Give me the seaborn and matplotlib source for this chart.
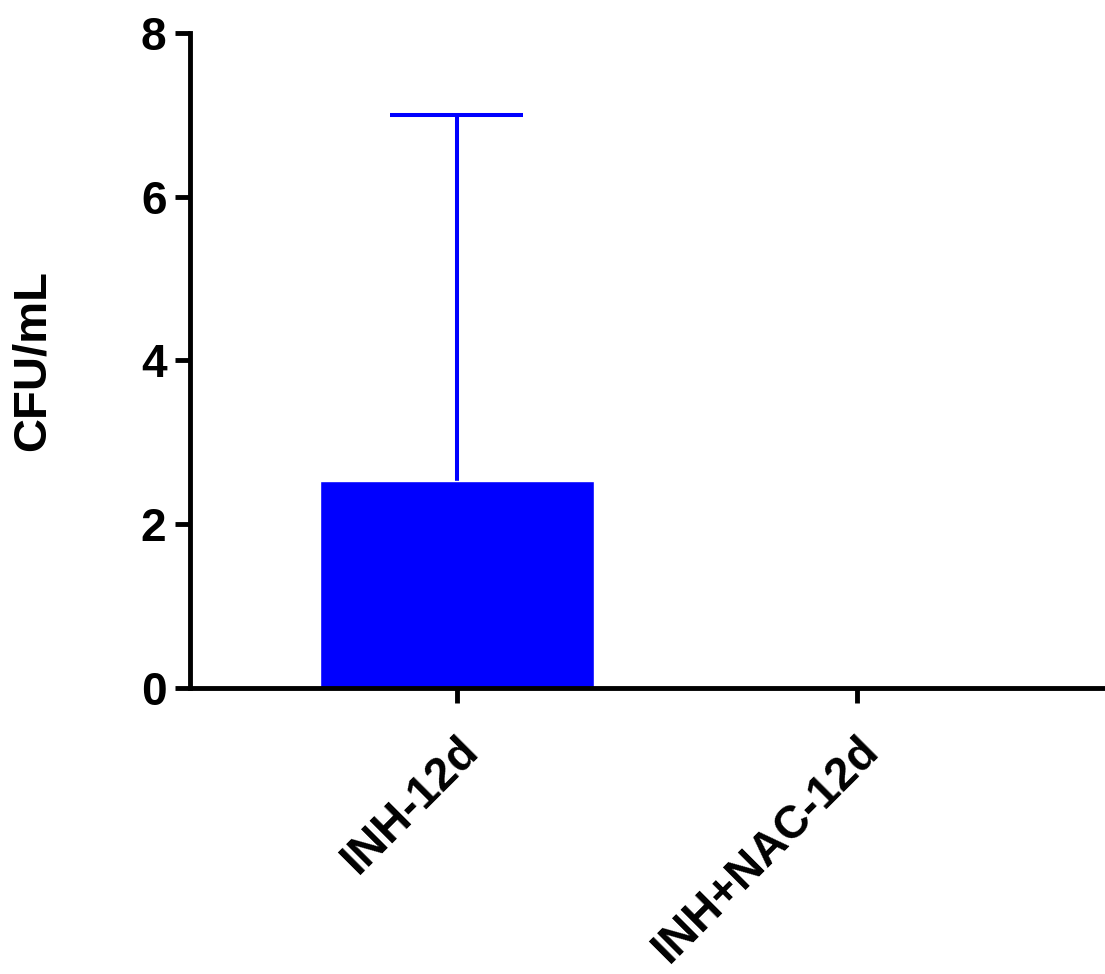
import matplotlib
matplotlib.use("Agg")
import matplotlib.pyplot as plt
import seaborn as sns
import pandas as pd
from matplotlib import font_manager

categories = ["INH-12d", "INH+NAC-12d"]
means = [2.53, 0.0]
upper_err = [4.47, 0.0]
y_ticks = [0, 2, 4, 6, 8]

sns.set_style("white")
plt.rcParams["font.family"] = ["Liberation Sans", "DejaVu Sans"]
plt.rcParams["text.color"] = "black"
plt.rcParams["axes.labelcolor"] = "black"
plt.rcParams["xtick.color"] = "black"
plt.rcParams["ytick.color"] = "black"

df = pd.DataFrame({"group": categories, "cfu": means})

fig = plt.figure(figsize=(11.05, 9.74), dpi=100)
ax = fig.add_axes([0.172, 0.294, 0.835, 0.672])

sns.barplot(data=df, x="group", y="cfu", color="#0000FF", saturation=1,
            width=0.685, errorbar=None, ax=ax, zorder=2)

cap_half = 0.166
for i, (m, e) in enumerate(zip(means, upper_err)):
    if e <= 0:
        continue
    top = m + e
    ax.vlines(i, m, top, color="#0000FF", linewidth=2.9, zorder=1)
    ax.hlines(top, i - cap_half, i + cap_half, color="#0000FF", linewidth=2.9, zorder=1)

ax.set_ylim(0, 8)
ax.set_xlim(-0.667, 1.64)
ax.set_yticks(y_ticks)
ax.set_yticklabels([str(t) for t in y_ticks], fontsize=33, fontweight="bold")
ax.set_xticks(range(len(categories)))
ax.set_xticklabels(categories, fontsize=33, fontweight="bold", rotation=45,
                   ha="right", rotation_mode="anchor")
ax.set_xlabel("")
ax.set_ylabel("CFU/mL", fontsize=34, fontweight="bold", labelpad=62)

for s in ["top", "right"]:
    ax.spines[s].set_visible(False)
for s in ["left", "bottom"]:
    ax.spines[s].set_linewidth(3.5)
    ax.spines[s].set_color("black")
ax.tick_params(axis="y", direction="out", length=11, width=3.5, left=True, pad=6)
ax.tick_params(axis="x", direction="out", length=11, width=3.5, bottom=True, pad=18)
ax.spines["bottom"].set_zorder(5)

fig.savefig("out.png", dpi=100)
